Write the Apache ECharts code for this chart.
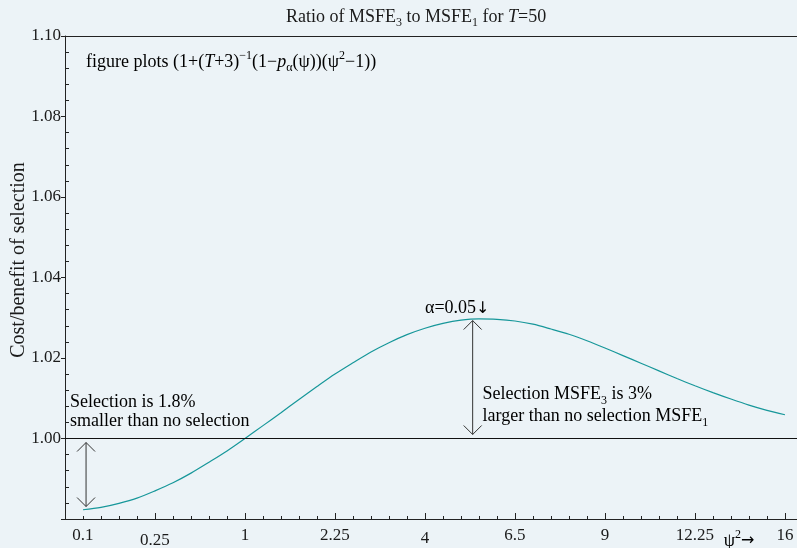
<!DOCTYPE html>
<html>
<head>
<meta charset="utf-8">
<script src="https://cdn.jsdelivr.net/npm/echarts@6/dist/echarts.min.js"></script>
<style>
  html, body { margin: 0; padding: 0; background: #ecf3f7; }
  #chart { width: 797px; height: 548px; }
</style>
</head>
<body>
<div id="chart"></div>
<script>
// psi values along the horizontal axis (axis is linear in psi, labelled in psi^2)
const psi = [0.1, 0.2, 0.3, 0.4, 0.5, 0.6, 0.7, 0.8, 0.9, 1.0,
             1.1, 1.2, 1.3, 1.4, 1.5, 1.6, 1.7, 1.8, 1.9, 2.0,
             2.1, 2.2, 2.3, 2.4, 2.5, 2.6, 2.7, 2.8, 2.9, 3.0,
             3.1, 3.2, 3.3, 3.4, 3.5, 3.6, 3.7, 3.8, 3.9, 4.0];
// ratio of MSFE_3 to MSFE_1 at each psi
const ratio = [0.9823, 0.9829, 0.9839, 0.9852, 0.9870, 0.9890, 0.9914, 0.9941, 0.9969, 1.0000,
               1.0032, 1.0064, 1.0097, 1.0129, 1.0160, 1.0188, 1.0215, 1.0238, 1.0258, 1.0274,
               1.0286, 1.0294, 1.0297, 1.0296, 1.0292, 1.0284, 1.0272, 1.0259, 1.0243, 1.0225,
               1.0206, 1.0187, 1.0168, 1.0149, 1.0131, 1.0114, 1.0098, 1.0083, 1.0070, 1.0059];
// horizontal tick labels: psi position and the psi^2 text shown there
const xTickPsi = [0.1, 0.5, 1, 1.5, 2, 2.5, 3, 3.5, 4];
const xTickText = ['0.1', '0.25', '1', '2.25', '4', '6.5', '9', '12.25', '16'];
// double-headed arrows: psi, lower end, upper end
const arrowPsi = [0.117, 2.265];
const arrowLow = [0.9831, 1.0010];
const arrowHigh = [0.9990, 1.0293];

const FONT = 'Liberation Serif';
const INK = '#1a1a1a';

const chart = echarts.init(document.getElementById('chart'));

const rich = {
  n: { fontFamily: FONT, fontSize: 18, fontWeight: 'normal', color: INK, lineHeight: 24, verticalAlign: 'middle' },
  i: { fontFamily: FONT, fontSize: 18, fontWeight: 'normal', color: INK, lineHeight: 24, verticalAlign: 'middle', fontStyle: 'italic' },
  a: { fontFamily: 'DejaVu Sans', fontSize: 16, fontWeight: 'normal', color: INK, lineHeight: 24, verticalAlign: 'middle' },
  s: { fontFamily: FONT, fontSize: 12, fontWeight: 'normal', color: INK, lineHeight: 12, verticalAlign: 'bottom' },
  u: { fontFamily: FONT, fontSize: 12, fontWeight: 'normal', color: INK, lineHeight: 12, verticalAlign: 'top' }
};

const labelMap = {};
xTickPsi.forEach((p, k) => { labelMap[p.toFixed(2)] = xTickText[k]; });

const curve = psi.map((p, k) => [p, ratio[k]]);
const arrows = arrowPsi.map((p, k) => [p, arrowLow[k], arrowHigh[k]]);

function arrowHead(tip, dir) {
  // open chevron with its tip at `tip`, opening toward dir (+1 down, -1 up)
  const w = 9, h = 9;
  return {
    type: 'polyline',
    shape: { points: [[tip[0] - w, tip[1] + dir * h], tip, [tip[0] + w, tip[1] + dir * h]] },
    style: { stroke: '#333', lineWidth: 1, fill: null }
  };
}

const option = {
  backgroundColor: '#ecf3f7',
  animation: false,
  title: {
    text: '{n|Ratio of MSFE}{s|3}{n| to MSFE}{s|1}{n| for }{i|T}{n|=50}',
    left: 281, top: 0,
    textStyle: { fontWeight: 'normal', rich: rich }
  },
  grid: { left: 65, right: 0, top: 36, bottom: 29, outerBoundsMode: 'none', containLabel: false },
  xAxis: [{
    type: 'value', min: 0, max: 4.067, interval: 0.5,
    axisLine: { show: true, lineStyle: { color: '#222', width: 1 } },
    axisTick: { show: true, inside: true, length: 6, lineStyle: { color: '#222' } },
    minorTick: { show: true, splitNumber: 5, length: 3, lineStyle: { color: '#222' } },
    splitLine: { show: false },
    axisLabel: {
      customValues: xTickPsi,
      margin: 8,
      fontFamily: FONT, fontSize: 17, color: INK,
      formatter: v => {
        const t = labelMap[Number(v).toFixed(2)];
        if (!t) return '';
        if (t === '0.25') return '{lo|' + t + '}';
        if (t === '4') return '{mid|' + t + '}';
        return t;
      },
      rich: {
        lo: { fontFamily: FONT, fontSize: 17, color: INK, padding: [5, 0, 0, 0] },
        mid: { fontFamily: FONT, fontSize: 17, color: INK, padding: [3, 0, 0, 0] }
      }
    }
  }, {
    type: 'value', min: 0, max: 4.067, position: 'top',
    axisLine: { show: true, lineStyle: { color: '#222', width: 1 } },
    axisTick: { show: false }, axisLabel: { show: false }, splitLine: { show: false }
  }],
  yAxis: [{
    type: 'value', min: 0.98, max: 1.10, interval: 0.02,
    name: 'Cost/benefit of selection',
    nameLocation: 'middle', nameGap: 36, nameRotate: 90, nameMoveOverlap: false,
    nameTextStyle: { fontFamily: FONT, fontSize: 20, color: INK, padding: [0, 0, 0, 35] },
    axisLine: { show: true, lineStyle: { color: '#222', width: 1 } },
    axisTick: { show: true, inside: false, length: 4, lineStyle: { color: '#222' } },
    splitLine: { show: false },
    axisLabel: {
      margin: 4, fontFamily: FONT, fontSize: 17, color: INK,
      formatter: v => (v < 0.99 ? '' : v.toFixed(2))
    }
  }, {
    type: 'value', min: 0.98, max: 1.10, interval: 0.02, position: 'left',
    axisLine: { show: false },
    axisTick: { show: false, inside: true },
    minorTick: { show: true, splitNumber: 5, length: 4, lineStyle: { color: '#222' } },
    axisLabel: { show: false }, splitLine: { show: false }
  }],
  series: [{
    type: 'line',
    data: curve,
    showSymbol: false,
    smooth: 0.3,
    lineStyle: { color: '#17979a', width: 1.2 },
    markLine: {
      silent: true, symbol: 'none', label: { show: false },
      lineStyle: { color: '#111', width: 1, type: 'solid' },
      data: [{ yAxis: 1.0 }]
    }
  }, {
    type: 'custom',
    data: arrows,
    encode: { x: 0, y: [1, 2] },
    renderItem: (params, api) => {
      const lo = api.coord([api.value(0), api.value(1)]);
      const hi = api.coord([api.value(0), api.value(2)]);
      return {
        type: 'group',
        children: [
          { type: 'line', shape: { x1: lo[0], y1: lo[1], x2: hi[0], y2: hi[1] },
            style: { stroke: '#333', lineWidth: 1 } },
          arrowHead(hi, 1),
          arrowHead(lo, -1)
        ]
      };
    }
  }]
};

chart.setOption(option);

// Annotation texts, anchored to data coordinates
function at(p, v) { return chart.convertToPixel({ xAxisIndex: 0, yAxisIndex: 0 }, [p, v]); }
function note(p, v, text) {
  const pt = at(p, v);
  return {
    type: 'text', x: pt[0], y: pt[1],
    style: { text: text, rich: rich, verticalAlign: 'middle', align: 'left' }
  };
}

chart.setOption({
  graphic: [
    note(0.117, 1.0935, '{n|figure plots (1+(}{i|T}{n|+3)}{u|−1}{n|(1−}{i|p}{s|α}{n|(ψ))(ψ}{u|2}{n|−1))}'),
    note(2.0, 1.0323, '{n|α=0.05}{a|↓}'),
    note(2.32, 1.0109, '{n|Selection MSFE}{s|3}{n| is 3%}'),
    note(2.32, 1.0055, '{n|larger than no selection MSFE}{s|1}'),
    note(0.028, 1.0090, '{n|Selection is 1.8%}'),
    note(0.028, 1.0043, '{n|smaller than no selection}'),
    note(3.66, 0.9745, '{n|ψ}{u|2}{a|→}')
  ]
});
</script>
</body>
</html>
